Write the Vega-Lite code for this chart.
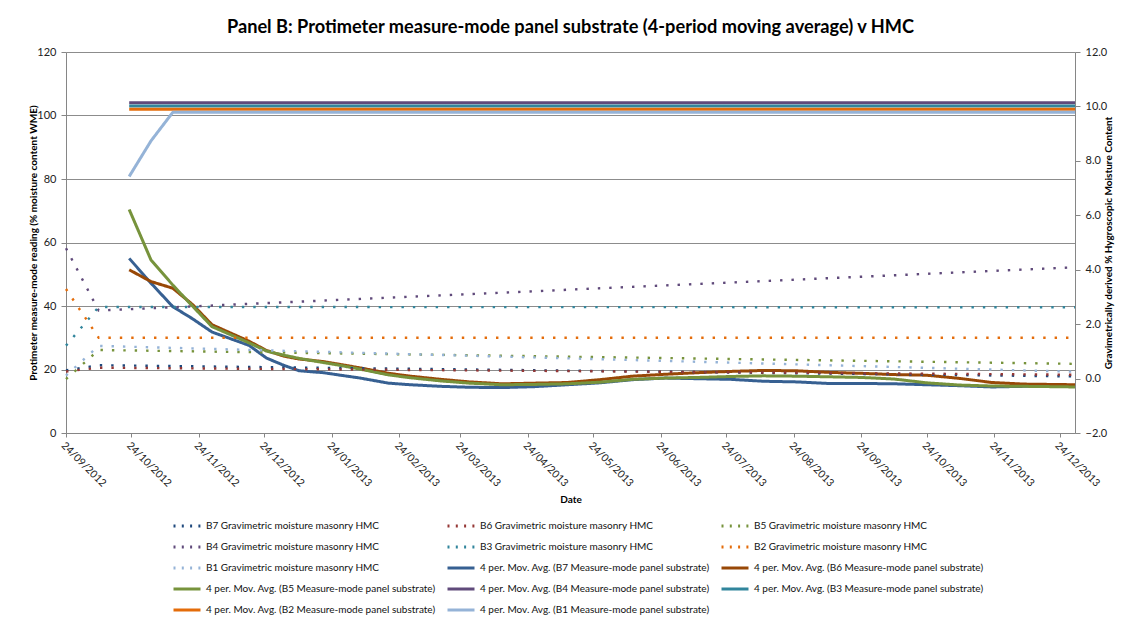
{
  "$schema": "https://vega.github.io/schema/vega-lite/v6.json",
  "width": 1009,
  "height": 381,
  "autosize": {"type": "none"},
  "padding": {"left": 66, "top": 52, "right": 60, "bottom": 186},
  "background": "white",
  "title": {
    "text": "Panel B: Protimeter measure-mode panel substrate (4-period moving average) v HMC",
    "font": "Lato", "fontSize": 18.2, "fontWeight": "bold", "color": "#000000", "offset": 9, "anchor": "middle"
  },
  "config": {
    "view": {"stroke": null},
    "axis": {
      "labelFont": "Lato", "labelFontSize": 11, "labelColor": "#222222",
      "titleFont": "Lato", "titleFontSize": 10, "titleFontWeight": "bold", "titleColor": "#000000",
      "domainColor": "#868686", "tickColor": "#868686", "gridColor": "#8c8c8c", "tickSize": 5
    },
    "legend": {
      "labelFont": "Lato", "labelFontSize": 10, "labelColor": "#111111"
    }
  },
  "datasets": {
    "ma": [
      {"date": "2012-10-23", "MA_B7": 55.0, "MA_B6": 51.4, "MA_B5": 70.4, "MA_B4": 104, "MA_B3": 103, "MA_B2": 102, "MA_B1": 80.8},
      {"date": "2012-11-02", "MA_B7": 47.2, "MA_B6": 47.7, "MA_B5": 54.5, "MA_B4": 104, "MA_B3": 103, "MA_B2": 102, "MA_B1": 92.0},
      {"date": "2012-11-12", "MA_B7": 39.8, "MA_B6": 45.6, "MA_B5": 46.6, "MA_B4": 104, "MA_B3": 103, "MA_B2": 102, "MA_B1": 101},
      {"date": "2012-11-21", "MA_B7": 36.0, "MA_B6": 40.5, "MA_B5": 40.0, "MA_B4": 104, "MA_B3": 103, "MA_B2": 102, "MA_B1": 101},
      {"date": "2012-11-30", "MA_B7": 31.8, "MA_B6": 34.1, "MA_B5": 33.5, "MA_B4": 104, "MA_B3": 103, "MA_B2": 102, "MA_B1": 101},
      {"date": "2012-12-17", "MA_B7": 27.6, "MA_B6": 28.9, "MA_B5": 28.4, "MA_B4": 104, "MA_B3": 103, "MA_B2": 102, "MA_B1": 101},
      {"date": "2012-12-25", "MA_B7": 23.6, "MA_B6": 26.0, "MA_B5": 25.8, "MA_B4": 104, "MA_B3": 103, "MA_B2": 102, "MA_B1": 101},
      {"date": "2013-01-02", "MA_B7": 21.3, "MA_B6": 24.2, "MA_B5": 24.5, "MA_B4": 104, "MA_B3": 103, "MA_B2": 102, "MA_B1": 101},
      {"date": "2013-01-09", "MA_B7": 19.6, "MA_B6": 23.3, "MA_B5": 23.5, "MA_B4": 104, "MA_B3": 103, "MA_B2": 102, "MA_B1": 101},
      {"date": "2013-01-20", "MA_B7": 19.0, "MA_B6": 22.5, "MA_B5": 22.2, "MA_B4": 104, "MA_B3": 103, "MA_B2": 102, "MA_B1": 101},
      {"date": "2013-01-27", "MA_B7": 18.3, "MA_B6": 21.7, "MA_B5": 21.4, "MA_B4": 104, "MA_B3": 103, "MA_B2": 102, "MA_B1": 101},
      {"date": "2013-02-06", "MA_B7": 17.3, "MA_B6": 20.5, "MA_B5": 20.1, "MA_B4": 104, "MA_B3": 103, "MA_B2": 102, "MA_B1": 101},
      {"date": "2013-02-19", "MA_B7": 15.7, "MA_B6": 18.8, "MA_B5": 18.3, "MA_B4": 104, "MA_B3": 103, "MA_B2": 102, "MA_B1": 101},
      {"date": "2013-03-01", "MA_B7": 15.2, "MA_B6": 17.9, "MA_B5": 17.4, "MA_B4": 104, "MA_B3": 103, "MA_B2": 102, "MA_B1": 101},
      {"date": "2013-03-15", "MA_B7": 14.7, "MA_B6": 16.9, "MA_B5": 16.4, "MA_B4": 104, "MA_B3": 103, "MA_B2": 102, "MA_B1": 101},
      {"date": "2013-03-28", "MA_B7": 14.4, "MA_B6": 16.1, "MA_B5": 15.7, "MA_B4": 104, "MA_B3": 103, "MA_B2": 102, "MA_B1": 101},
      {"date": "2013-04-12", "MA_B7": 14.3, "MA_B6": 15.5, "MA_B5": 15.2, "MA_B4": 104, "MA_B3": 103, "MA_B2": 102, "MA_B1": 101},
      {"date": "2013-04-27", "MA_B7": 14.6, "MA_B6": 15.7, "MA_B5": 15.3, "MA_B4": 104, "MA_B3": 103, "MA_B2": 102, "MA_B1": 101},
      {"date": "2013-05-12", "MA_B7": 15.2, "MA_B6": 15.9, "MA_B5": 15.5, "MA_B4": 104, "MA_B3": 103, "MA_B2": 102, "MA_B1": 101},
      {"date": "2013-05-27", "MA_B7": 15.8, "MA_B6": 16.8, "MA_B5": 16.0, "MA_B4": 104, "MA_B3": 103, "MA_B2": 102, "MA_B1": 101},
      {"date": "2013-06-11", "MA_B7": 16.8, "MA_B6": 17.9, "MA_B5": 16.9, "MA_B4": 104, "MA_B3": 103, "MA_B2": 102, "MA_B1": 101},
      {"date": "2013-06-26", "MA_B7": 17.3, "MA_B6": 18.5, "MA_B5": 17.3, "MA_B4": 104, "MA_B3": 103, "MA_B2": 102, "MA_B1": 101},
      {"date": "2013-07-11", "MA_B7": 17.1, "MA_B6": 19.0, "MA_B5": 17.5, "MA_B4": 104, "MA_B3": 103, "MA_B2": 102, "MA_B1": 101},
      {"date": "2013-07-26", "MA_B7": 16.9, "MA_B6": 19.4, "MA_B5": 17.8, "MA_B4": 104, "MA_B3": 103, "MA_B2": 102, "MA_B1": 101},
      {"date": "2013-08-10", "MA_B7": 16.3, "MA_B6": 19.7, "MA_B5": 18.0, "MA_B4": 104, "MA_B3": 103, "MA_B2": 102, "MA_B1": 101},
      {"date": "2013-08-25", "MA_B7": 16.1, "MA_B6": 19.6, "MA_B5": 17.9, "MA_B4": 104, "MA_B3": 103, "MA_B2": 102, "MA_B1": 101},
      {"date": "2013-09-09", "MA_B7": 15.6, "MA_B6": 19.1, "MA_B5": 17.7, "MA_B4": 104, "MA_B3": 103, "MA_B2": 102, "MA_B1": 101},
      {"date": "2013-09-24", "MA_B7": 15.6, "MA_B6": 18.8, "MA_B5": 17.5, "MA_B4": 104, "MA_B3": 103, "MA_B2": 102, "MA_B1": 101},
      {"date": "2013-10-09", "MA_B7": 15.5, "MA_B6": 18.4, "MA_B5": 17.0, "MA_B4": 104, "MA_B3": 103, "MA_B2": 102, "MA_B1": 101},
      {"date": "2013-10-24", "MA_B7": 15.2, "MA_B6": 18.2, "MA_B5": 15.8, "MA_B4": 104, "MA_B3": 103, "MA_B2": 102, "MA_B1": 101},
      {"date": "2013-11-08", "MA_B7": 14.9, "MA_B6": 17.2, "MA_B5": 15.1, "MA_B4": 104, "MA_B3": 103, "MA_B2": 102, "MA_B1": 101},
      {"date": "2013-11-23", "MA_B7": 14.5, "MA_B6": 15.9, "MA_B5": 14.8, "MA_B4": 104, "MA_B3": 103, "MA_B2": 102, "MA_B1": 101},
      {"date": "2013-12-08", "MA_B7": 14.7, "MA_B6": 15.4, "MA_B5": 14.7, "MA_B4": 104, "MA_B3": 103, "MA_B2": 102, "MA_B1": 101},
      {"date": "2013-12-20", "MA_B7": 14.8, "MA_B6": 15.3, "MA_B5": 14.6, "MA_B4": 104, "MA_B3": 103, "MA_B2": 102, "MA_B1": 101},
      {"date": "2013-12-31", "MA_B7": 14.9, "MA_B6": 15.2, "MA_B5": 14.5, "MA_B4": 104, "MA_B3": 103, "MA_B2": 102, "MA_B1": 101}
    ],
    "hmc": [
      {"date": "2012-09-24", "HMC_B7": 0.30, "HMC_B6": 0.26, "HMC_B5": -0.02, "HMC_B4": 4.79, "HMC_B3": 1.21, "HMC_B2": 3.29, "HMC_B1": 0.11},
      {"date": "2012-10-09", "HMC_B7": 0.49, "HMC_B6": 0.40, "HMC_B5": 1.05, "HMC_B4": 2.50, "HMC_B3": 2.63, "HMC_B2": 1.50, "HMC_B1": 1.20},
      {"date": "2013-12-31", "HMC_B7": 0.08, "HMC_B6": 0.14, "HMC_B5": 0.54, "HMC_B4": 4.09, "HMC_B3": 2.62, "HMC_B2": 1.50, "HMC_B1": 0.25}
    ]
  },
  "layer": [
    {
      "data": {"name": "ma"},
      "transform": [{"fold": ["MA_B7", "MA_B6", "MA_B5", "MA_B4", "MA_B3", "MA_B2", "MA_B1"], "as": ["series", "value"]}],
      "mark": {"type": "line", "strokeWidth": 3, "strokeJoin": "round"},
      "encoding": {
        "x": {
          "field": "date", "type": "temporal",
          "scale": {"type": "utc", "domain": ["2012-09-24", "2013-12-31"]},
          "axis": {
            "title": "Date", "format": "%d/%m/%Y", "labelAngle": 45, "labelAlign": "left", "labelBaseline": "top",
            "labelFontSize": 10.5, "labelPadding": 3, "grid": false, "tickSize": 4, "titlePadding": 6, "labelOverlap": false,
            "values": [1348444800000, 1351036800000, 1353715200000, 1356307200000, 1358985600000, 1361664000000, 1364083200000, 1366761600000, 1369353600000, 1372032000000, 1374624000000, 1377302400000, 1379980800000, 1382572800000, 1385251200000, 1387843200000]
          }
        },
        "y": {
          "field": "value", "type": "quantitative",
          "scale": {"domain": [0, 120], "nice": false},
          "axis": {
            "title": "Protimeter measure-mode reading (% moisture content WME)",
            "values": [0, 20, 40, 60, 80, 100, 120], "grid": true, "labelPadding": 5, "titlePadding": -2
          }
        },
        "color": {
          "field": "series", "type": "nominal",
          "scale": {
            "domain": ["HMC_B7", "HMC_B4", "HMC_B1", "MA_B5", "MA_B2", "HMC_B6", "HMC_B3", "MA_B7", "MA_B4", "MA_B1", "HMC_B5", "HMC_B2", "MA_B6", "MA_B3"],
            "range": ["#1F497D", "#604A7B", "#95B3D7", "#77933C", "#E46C0A", "#953735", "#31859C", "#376092", "#604A7B", "#95B3D7", "#77933C", "#E46C0A", "#984807", "#31859C"]
          },
          "legend": {
            "orient": "none", "legendX": 106, "legendY": 459, "columns": 3, "title": null,
            "symbolType": "stroke", "symbolSize": 729, "symbolStrokeWidth": 3, "labelOffset": 4,
            "rowPadding": -6.25, "columnPadding": 5, "labelLimit": 0,
            "labelExpr": "slice(datum.label,0,3)=='HMC' ? slice(datum.label,4) + ' Gravimetric moisture masonry HMC' : '4 per. Mov. Avg. (' + slice(datum.label,3) + ' Measure-mode panel substrate)'"
          }
        },
        "strokeDash": {
          "field": "series", "type": "nominal",
          "scale": {
            "domain": ["HMC_B7", "HMC_B4", "HMC_B1", "MA_B5", "MA_B2", "HMC_B6", "HMC_B3", "MA_B7", "MA_B4", "MA_B1", "HMC_B5", "HMC_B2", "MA_B6", "MA_B3"],
            "range": [[2, 6.3], [2, 6.3], [2, 6.3], [1, 0], [1, 0], [2, 6.3], [2, 6.3], [1, 0], [1, 0], [1, 0], [2, 6.3], [2, 6.3], [1, 0], [1, 0]]
          },
          "legend": {
            "orient": "none", "legendX": 106, "legendY": 459, "columns": 3, "title": null,
            "symbolType": "stroke", "symbolSize": 729, "symbolStrokeWidth": 3, "labelOffset": 4,
            "rowPadding": -6.25, "columnPadding": 5, "labelLimit": 0,
            "labelExpr": "slice(datum.label,0,3)=='HMC' ? slice(datum.label,4) + ' Gravimetric moisture masonry HMC' : '4 per. Mov. Avg. (' + slice(datum.label,3) + ' Measure-mode panel substrate)'"
          }
        }
      }
    },
    {
      "data": {"name": "hmc"},
      "transform": [{"fold": ["HMC_B7", "HMC_B6", "HMC_B5", "HMC_B4", "HMC_B3", "HMC_B2", "HMC_B1"], "as": ["series", "value"]}],
      "mark": {"type": "line", "strokeWidth": 2.4, "strokeDash": [2.4, 9]},
      "encoding": {
        "x": {"field": "date", "type": "temporal"},
        "y": {
          "field": "value", "type": "quantitative",
          "scale": {"domain": [-2, 12], "nice": false},
          "axis": {
            "orient": "right", "title": "Gravimetrically derived % Hygroscopic Moisture Content",
            "titleAngle": 270, "titleBaseline": "top",
            "values": [-2, 0, 2, 4, 6, 8, 10, 12], "format": ".1f", "grid": false, "labelPadding": 5, "titlePadding": -3
          }
        },
        "color": {"field": "series", "type": "nominal"}
      }
    }
  ],
  "resolve": {"scale": {"y": "independent"}}
}
